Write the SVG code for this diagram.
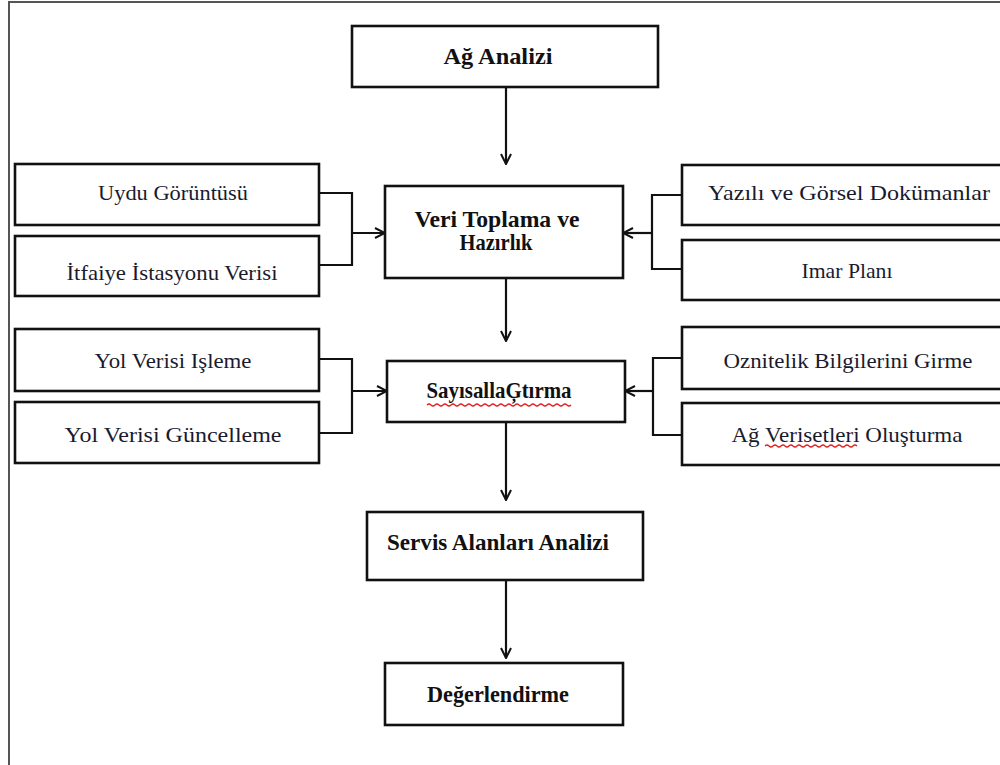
<svg xmlns="http://www.w3.org/2000/svg" width="1000" height="765" viewBox="0 0 1000 765">
<style>
.box{fill:#fff;stroke:#111;stroke-width:2.6}
.c{fill:none;stroke:#111;stroke-width:2.2}
.b{font-family:"Liberation Serif",serif;font-weight:bold;font-size:23px;fill:#111;text-anchor:middle}
.r{font-family:"Liberation Serif",serif;font-size:22px;fill:#1a1a2e;text-anchor:middle}
.sq{fill:none;stroke:#e02020;stroke-width:1.2}
</style>
<defs>
<marker id="ah" viewBox="0 0 12 12" refX="11" refY="6" markerWidth="12" markerHeight="12" markerUnits="userSpaceOnUse" orient="auto">
<path d="M1,1 L11,6 L1,11" fill="none" stroke="#111" stroke-width="2"/>
</marker>
</defs>
<rect width="1000" height="765" fill="#fff"/>
<g id="frame"><path d="M9,765 L9,2 L1000,2" fill="none" stroke="#555" stroke-width="2"/></g>

<g id="connectors">
<line class="c" x1="506" y1="88" x2="506" y2="164" marker-end="url(#ah)"/>
<line class="c" x1="506" y1="278" x2="506" y2="341" marker-end="url(#ah)"/>
<line class="c" x1="506" y1="422" x2="506" y2="500" marker-end="url(#ah)"/>
<line class="c" x1="506" y1="580" x2="506" y2="658" marker-end="url(#ah)"/>
<polyline class="c" points="319,193 352,193 352,265 319,265"/>
<line class="c" x1="352" y1="233" x2="385" y2="233" marker-end="url(#ah)"/>
<polyline class="c" points="682,195 652,195 652,269 682,269"/>
<line class="c" x1="652" y1="233" x2="623" y2="233" marker-end="url(#ah)"/>
<polyline class="c" points="319,359 352,359 352,433 319,433"/>
<line class="c" x1="352" y1="391" x2="387" y2="391" marker-end="url(#ah)"/>
<polyline class="c" points="682,358 653,358 653,435 682,435"/>
<line class="c" x1="653" y1="391" x2="625" y2="391" marker-end="url(#ah)"/>
</g>

<g id="n-ag-analizi"><rect class="box" x="352" y="26" width="306" height="61"/><text class="b" x="498" y="64" textLength="109" lengthAdjust="spacingAndGlyphs">Ağ Analizi</text></g>
<g id="n-veri"><rect class="box" x="385" y="186" width="238" height="92"/><text class="b" x="497" y="227" textLength="165" lengthAdjust="spacingAndGlyphs">Veri  Toplama  ve</text><text class="b" x="496" y="250" textLength="73" lengthAdjust="spacingAndGlyphs">Hazırlık</text></g>
<g id="n-uydu"><rect class="box" x="15" y="164" width="304" height="61"/><text class="r" x="173" y="200" textLength="150" lengthAdjust="spacingAndGlyphs">Uydu  Görüntüsü</text></g>
<g id="n-itfaiye"><rect class="box" x="15" y="236" width="304" height="60"/><text class="r" x="172" y="280" textLength="211" lengthAdjust="spacingAndGlyphs">İtfaiye  İstasyonu  Verisi</text></g>
<g id="n-yazili"><rect class="box" x="682" y="165" width="330" height="60"/><text class="r" x="849" y="200" textLength="282" lengthAdjust="spacingAndGlyphs">Yazılı ve Görsel Dokümanlar</text></g>
<g id="n-imar"><rect class="box" x="682" y="240" width="330" height="60"/><text class="r" x="847" y="278" textLength="91" lengthAdjust="spacingAndGlyphs">Imar  Planı</text></g>
<g id="n-sayisal"><rect class="box" x="387" y="361" width="238" height="61"/><text class="b" x="499" y="398" textLength="145" lengthAdjust="spacingAndGlyphs">SayısallaĢtırma</text><path class="sq" d="M427,405 q2,-2 4,0 t4,0 t4,0 t4,0 t4,0 t4,0 t4,0 t4,0 t4,0 t4,0 t4,0 t4,0 t4,0 t4,0 t4,0 t4,0 t4,0 t4,0 t4,0 t4,0 t4,0 t4,0 t4,0 t4,0 t4,0 t4,0 t4,0 t4,0 t4,0 t4,0 t4,0 t4,0 t4,0 t4,0 t4,0 t4,0"/></g>
<g id="n-yol-isleme"><rect class="box" x="15" y="329" width="304" height="62"/><text class="r" x="173" y="368" textLength="157" lengthAdjust="spacingAndGlyphs">Yol  Verisi   Işleme</text></g>
<g id="n-yol-guncelleme"><rect class="box" x="15" y="402" width="304" height="61"/><text class="r" x="173" y="442" textLength="217" lengthAdjust="spacingAndGlyphs">Yol Verisi Güncelleme</text></g>
<g id="n-oznitelik"><rect class="box" x="682" y="327" width="330" height="62"/><text class="r" x="848" y="368" textLength="249" lengthAdjust="spacingAndGlyphs">Oznitelik  Bilgilerini  Girme</text></g>
<g id="n-ag-veriseti"><rect class="box" x="682" y="403" width="330" height="62"/><text class="r" x="847" y="442" textLength="231" lengthAdjust="spacingAndGlyphs">Ağ  Verisetleri  Oluşturma</text><path class="sq" d="M765,446 q2,-2 4,0 t4,0 t4,0 t4,0 t4,0 t4,0 t4,0 t4,0 t4,0 t4,0 t4,0 t4,0 t4,0 t4,0 t4,0 t4,0 t4,0 t4,0 t4,0 t4,0 t4,0 t4,0 t4,0"/></g>
<g id="n-servis"><rect class="box" x="367" y="512" width="276" height="68"/><text class="b" x="498" y="550" textLength="222" lengthAdjust="spacingAndGlyphs">Servis   Alanları   Analizi</text></g>
<g id="n-degerlendirme"><rect class="box" x="385" y="663" width="238" height="62"/><text class="b" x="498" y="702" textLength="142" lengthAdjust="spacingAndGlyphs">Değerlendirme</text></g>
</svg>
